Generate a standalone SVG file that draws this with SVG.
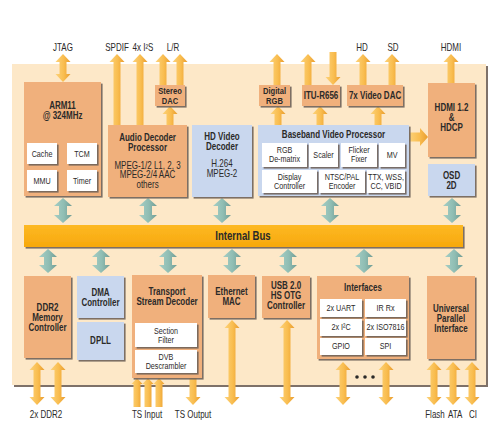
<svg xmlns="http://www.w3.org/2000/svg" width="500" height="434" viewBox="0 0 500 434">
<style>
.t{font-family:'Liberation Sans',Arial,sans-serif;text-anchor:middle;fill:#2b2a29;transform-box:fill-box;transform-origin:center;transform:scaleX(0.8)}
.b{font-weight:bold;font-size:10px}
.bs{font-weight:bold;font-size:9.5px}
.r{font-size:10px}
.s{font-size:9px}
.bus{font-weight:bold;font-size:12px}
.ob{fill:#f0b07c;filter:url(#sh)}
.bb{fill:#c9d7ee;filter:url(#sh)}
.wb{fill:#ffffff;filter:url(#sh)}
.oa{fill:url(#og)}
.ta{fill:url(#tg)}
</style>
<defs>
<filter id="sh" x="-10%" y="-10%" width="130%" height="130%">
<feDropShadow dx="1.6" dy="1.6" stdDeviation="0.3" flood-color="#6f6258" flood-opacity="0.9"/>
</filter>
<filter id="psh" x="-5%" y="-5%" width="110%" height="110%">
<feDropShadow dx="2" dy="2" stdDeviation="0.4" flood-color="#6f6258" flood-opacity="0.9"/>
</filter>
<linearGradient id="og" x1="0" y1="0" x2="1" y2="0">
<stop offset="0" stop-color="#fcd27a"/>
<stop offset="0.55" stop-color="#f9bd4f"/>
<stop offset="1" stop-color="#e99c2e"/>
</linearGradient>
<linearGradient id="tg" x1="0" y1="0" x2="1" y2="0">
<stop offset="0" stop-color="#a6cec5"/>
<stop offset="0.55" stop-color="#8fbdb3"/>
<stop offset="1" stop-color="#6f9b93"/>
</linearGradient>
<linearGradient id="busg" x1="0" y1="0" x2="0" y2="1">
<stop offset="0" stop-color="#fdb924"/>
<stop offset="1" stop-color="#f7a80c"/>
</linearGradient>
</defs>

<rect id="panel" x="12" y="64" width="474" height="321" fill="#fde8c8" filter="url(#psh)"/>

<g id="connectors">
<path class="oa" d="M117 54 L124.5 62 L120.5 62 L120.5 125 L113.5 125 L113.5 62 L109.5 62 Z"/>
<path class="oa" d="M140 54 L147.5 62 L143.5 62 L143.5 125 L136.5 125 L136.5 62 L132.5 62 Z"/>
<path class="oa" d="M163 54 L170.5 62 L166.5 62 L166.5 85 L159.5 85 L159.5 62 L155.5 62 Z"/>
<path class="oa" d="M180 54 L187.5 62 L183.5 62 L183.5 85 L176.5 85 L176.5 62 L172.5 62 Z"/>
<path class="oa" d="M170 106 L177.5 114 L173.5 114 L173.5 125 L166.5 125 L166.5 114 L162.5 114 Z"/>
<path class="oa" d="M277 54 L284.5 62 L280.5 62 L280.5 85 L273.5 85 L273.5 62 L269.5 62 Z"/>
<path class="oa" d="M278 106 L285.5 114 L281.5 114 L281.5 125 L274.5 125 L274.5 114 L270.5 114 Z"/>
<path class="oa" d="M308 54 L315.5 62 L311.5 62 L311.5 85 L304.5 85 L304.5 62 L300.5 62 Z"/>
<path class="oa" d="M333 85 L340.5 77 L336.5 77 L336.5 52 L329.5 52 L329.5 77 L325.5 77 Z"/>
<path class="oa" d="M320 106 L327.5 114 L323.5 114 L323.5 125 L316.5 125 L316.5 114 L312.5 114 Z"/>
<path class="oa" d="M363 54 L370.5 62 L366.5 62 L366.5 85 L359.5 85 L359.5 62 L355.5 62 Z"/>
<path class="oa" d="M392 54 L399.5 62 L395.5 62 L395.5 85 L388.5 85 L388.5 62 L384.5 62 Z"/>
<path class="oa" d="M378 106 L385.5 114 L381.5 114 L381.5 125 L374.5 125 L374.5 114 L370.5 114 Z"/>
<path class="oa" d="M451 54 L458.5 62 L454.5 62 L454.5 83 L447.5 83 L447.5 62 L443.5 62 Z"/>
<path class="oa" d="M63 54 L70.5 62 L66.5 62 L66.5 74 L70.5 74 L63 82 L55.5 74 L59.5 74 L59.5 62 L55.5 62 Z"/>
<path class="oa" d="M409 132.5 L420 132.5 L420 128 L428 137 L420 146 L420 141.5 L409 141.5 Z"/>

<path class="oa" d="M37 362 L44.5 370 L40.5 370 L40.5 397 L44.5 397 L37 405 L29.5 397 L33.5 397 L33.5 370 L29.5 370 Z"/>
<path class="oa" d="M58 362 L65.5 370 L61.5 370 L61.5 397 L65.5 397 L58 405 L50.5 397 L54.5 397 L54.5 370 L50.5 370 Z"/>
<path class="oa" d="M137 378 L142.5 384 L140.5 384 L140.5 407 L133.5 407 L133.5 384 L131.5 384 Z"/>
<path class="oa" d="M148 378 L153.5 384 L151.5 384 L151.5 407 L144.5 407 L144.5 384 L142.5 384 Z"/>
<path class="oa" d="M159 378 L164.5 384 L162.5 384 L162.5 407 L155.5 407 L155.5 384 L153.5 384 Z"/>
<path class="oa" d="M193 405 L200.5 397 L196.5 397 L196.5 378 L189.5 378 L189.5 397 L185.5 397 Z"/>
<path class="oa" d="M232 320 L239.5 328 L235.5 328 L235.5 397 L239.5 397 L232 405 L224.5 397 L228.5 397 L228.5 328 L224.5 328 Z"/>
<path class="oa" d="M287 320 L294.5 328 L290.5 328 L290.5 397 L294.5 397 L287 405 L279.5 397 L283.5 397 L283.5 328 L279.5 328 Z"/>
<path class="oa" d="M343 362 L350.5 370 L346.5 370 L346.5 397 L350.5 397 L343 405 L335.5 397 L339.5 397 L339.5 370 L335.5 370 Z"/>
<path class="oa" d="M386 362 L393.5 370 L389.5 370 L389.5 397 L393.5 397 L386 405 L378.5 397 L382.5 397 L382.5 370 L378.5 370 Z"/>
<path class="oa" d="M434 362 L441.5 370 L437.5 370 L437.5 397 L441.5 397 L434 405 L426.5 397 L430.5 397 L430.5 370 L426.5 370 Z"/>
<path class="oa" d="M453 362 L460.5 370 L456.5 370 L456.5 397 L460.5 397 L453 405 L445.5 397 L449.5 397 L449.5 370 L445.5 370 Z"/>
<path class="oa" d="M472 362 L479.5 370 L475.5 370 L475.5 397 L479.5 397 L472 405 L464.5 397 L468.5 397 L468.5 370 L464.5 370 Z"/>

<path class="ta" d="M63 198 L72 206 L67 206 L67 215 L72 215 L63 223 L54 215 L59 215 L59 206 L54 206 Z"/>
<path class="ta" d="M148 198 L157 206 L152 206 L152 215 L157 215 L148 223 L139 215 L144 215 L144 206 L139 206 Z"/>
<path class="ta" d="M222 198 L231 206 L226 206 L226 215 L231 215 L222 223 L213 215 L218 215 L218 206 L213 206 Z"/>
<path class="ta" d="M330 198 L339 206 L334 206 L334 215 L339 215 L330 223 L321 215 L326 215 L326 206 L321 206 Z"/>
<path class="ta" d="M452 198 L461 206 L456 206 L456 215 L461 215 L452 223 L443 215 L448 215 L448 206 L443 206 Z"/>
<path class="ta" d="M48 249 L57 257 L52 257 L52 265 L57 265 L48 273 L39 265 L44 265 L44 257 L39 257 Z"/>
<path class="ta" d="M101 249 L110 257 L105 257 L105 265 L110 265 L101 273 L92 265 L97 265 L97 257 L92 257 Z"/>
<path class="ta" d="M168 249 L177 257 L172 257 L172 265 L177 265 L168 273 L159 265 L164 265 L164 257 L159 257 Z"/>
<path class="ta" d="M232 249 L241 257 L236 257 L236 265 L241 265 L232 273 L223 265 L228 265 L228 257 L223 257 Z"/>
<path class="ta" d="M288 249 L297 257 L292 257 L292 265 L297 265 L288 273 L279 265 L284 265 L284 257 L279 257 Z"/>
<path class="ta" d="M364 249 L373 257 L368 257 L368 265 L373 265 L364 273 L355 265 L360 265 L360 257 L355 257 Z"/>
<path class="ta" d="M454 249 L463 257 L458 257 L458 265 L463 265 L454 273 L445 265 L450 265 L450 257 L445 257 Z"/>
</g>

<g id="labels">
<text class="t r" x="63" y="51">JTAG</text>
<text class="t r" x="117" y="51">SPDIF</text>
<text class="t r" x="143" y="51">4x I²S</text>
<text class="t r" x="173" y="51">L/R</text>
<text class="t r" x="362" y="51">HD</text>
<text class="t r" x="393" y="51">SD</text>
<text class="t r" x="451" y="51">HDMI</text>
<text class="t r" x="46" y="418">2x DDR2</text>
<text class="t r" x="147" y="418">TS Input</text>
<text class="t r" x="193" y="418">TS Output</text>
<text class="t r" x="435" y="418">Flash</text>
<text class="t r" x="455" y="418">ATA</text>
<text class="t r" x="473" y="418">CI</text>
</g>

<g id="arm11">
<rect class="ob" x="24" y="82" width="77" height="114"/>
<text class="t b" x="62.5" y="109">ARM11</text>
<text class="t b" x="62.5" y="119">@ 324MHz</text>
<rect class="wb" x="27" y="143" width="30" height="21"/>
<text class="t s" x="42" y="157">Cache</text>
<rect class="wb" x="67" y="143" width="30" height="21"/>
<text class="t s" x="82" y="157">TCM</text>
<rect class="wb" x="27" y="170" width="30" height="21"/>
<text class="t s" x="42" y="184">MMU</text>
<rect class="wb" x="67" y="170" width="30" height="21"/>
<text class="t s" x="82" y="184">Timer</text>
</g>

<g id="audio">
<rect class="ob" x="108" y="125" width="79" height="72"/>
<text class="t b" x="147.5" y="141">Audio Decoder</text>
<text class="t b" x="147.5" y="151">Processor</text>
<text class="t r" x="147.5" y="169">MPEG-1/2 L1, 2, 3</text>
<text class="t r" x="147.5" y="178.5">MPEG-2/4 AAC</text>
<text class="t r" x="147.5" y="188">others</text>
</g>

<g id="stereo-dac">
<rect class="ob" x="155" y="85" width="30" height="21"/>
<text class="t bs" x="170" y="94">Stereo</text>
<text class="t bs" x="170" y="104">DAC</text>
</g>

<g id="hd-video">
<rect class="bb" x="192" y="125" width="60" height="72"/>
<text class="t b" x="222" y="140">HD Video</text>
<text class="t b" x="222" y="150">Decoder</text>
<text class="t r" x="222" y="167">H.264</text>
<text class="t r" x="222" y="177">MPEG-2</text>
</g>

<g id="baseband">
<rect class="bb" x="258" y="125" width="151" height="71"/>
<text class="t b" x="333.5" y="138">Baseband Video Processor</text>
<rect class="wb" x="262" y="143" width="45" height="24"/>
<text class="t s" x="284.5" y="153">RGB</text>
<text class="t s" x="284.5" y="162">De-matrix</text>
<rect class="wb" x="309" y="143" width="29" height="24"/>
<text class="t s" x="323.5" y="158">Scaler</text>
<rect class="wb" x="341" y="143" width="36" height="24"/>
<text class="t s" x="359" y="153">Flicker</text>
<text class="t s" x="359" y="162">Fixer</text>
<rect class="wb" x="379" y="143" width="26" height="24"/>
<text class="t s" x="392" y="158">MV</text>
<rect class="wb" x="262" y="170" width="55" height="23"/>
<text class="t s" x="289.5" y="180">Display</text>
<text class="t s" x="289.5" y="189">Controller</text>
<rect class="wb" x="319" y="170" width="46" height="23"/>
<text class="t s" x="342" y="180">NTSC/PAL</text>
<text class="t s" x="342" y="189">Encoder</text>
<rect class="wb" x="367" y="170" width="38" height="23"/>
<text class="t s" x="386" y="180">TTX, WSS,</text>
<text class="t s" x="386" y="189">CC, VBID</text>
</g>

<g id="digital-rgb">
<rect class="ob" x="259" y="85" width="31" height="21"/>
<text class="t bs" x="274.5" y="94">Digital</text>
<text class="t bs" x="274.5" y="104">RGB</text>
</g>

<g id="itu-r656">
<rect class="ob" x="302" y="85" width="38" height="21"/>
<text class="t b" x="321" y="99">ITU-R656</text>
</g>

<g id="video-dac">
<rect class="ob" x="347" y="85" width="56" height="21"/>
<text class="t b" x="375" y="99">7x Video DAC</text>
</g>

<g id="hdmi">
<rect class="ob" x="428" y="83" width="47" height="74"/>
<text class="t b" x="451.5" y="111">HDMI 1.2</text>
<text class="t b" x="451.5" y="121">&amp;</text>
<text class="t b" x="451.5" y="131">HDCP</text>
</g>

<g id="osd">
<rect class="bb" x="428" y="164" width="47" height="32"/>
<text class="t b" x="451.5" y="179">OSD</text>
<text class="t b" x="451.5" y="189">2D</text>
</g>

<g id="bus">
<rect x="24" y="225" width="439" height="22" fill="url(#busg)" filter="url(#sh)"/>
<text class="t bus" x="243" y="240.5">Internal Bus</text>
</g>

<g id="ddr2">
<rect class="ob" x="24" y="276" width="47" height="82"/>
<text class="t b" x="47.5" y="311">DDR2</text>
<text class="t b" x="47.5" y="321">Memory</text>
<text class="t b" x="47.5" y="331">Controller</text>
</g>

<g id="dma">
<rect class="bb" x="77" y="276" width="47" height="42"/>
<text class="t b" x="100.5" y="296">DMA</text>
<text class="t b" x="100.5" y="306">Controller</text>
</g>

<g id="dpll">
<rect class="bb" x="77" y="322" width="47" height="38"/>
<text class="t b" x="100.5" y="344">DPLL</text>
</g>

<g id="tsd">
<rect class="ob" x="132" y="275" width="70" height="103"/>
<text class="t b" x="167" y="295">Transport</text>
<text class="t b" x="167" y="305">Stream Decoder</text>
<rect class="wb" x="135" y="323" width="62" height="24"/>
<text class="t s" x="166" y="334.5">Section</text>
<text class="t s" x="166" y="343.5">Filter</text>
<rect class="wb" x="135" y="350" width="62" height="23"/>
<text class="t s" x="166" y="360.5">DVB</text>
<text class="t s" x="166" y="369.5">Descrambler</text>
</g>

<g id="ethernet">
<rect class="ob" x="208" y="275" width="47" height="43"/>
<text class="t b" x="231.5" y="295">Ethernet</text>
<text class="t b" x="231.5" y="305">MAC</text>
</g>

<g id="usb">
<rect class="ob" x="262" y="276" width="48" height="42"/>
<text class="t b" x="286" y="289">USB 2.0</text>
<text class="t b" x="286" y="299">HS OTG</text>
<text class="t b" x="286" y="309">Controller</text>
</g>

<g id="interfaces">
<rect class="ob" x="317" y="276" width="92" height="83"/>
<text class="t b" x="363" y="291">Interfaces</text>
<rect class="wb" x="320" y="299" width="42" height="18"/>
<text class="t s" x="341" y="311">2x UART</text>
<rect class="wb" x="365" y="299" width="41" height="18"/>
<text class="t s" x="385.5" y="311">IR Rx</text>
<rect class="wb" x="320" y="319" width="42" height="17"/>
<text class="t s" x="341" y="330.5">2x I²C</text>
<rect class="wb" x="365" y="319" width="41" height="17"/>
<text class="t s" x="385.5" y="330.5">2x ISO7816</text>
<rect class="wb" x="320" y="338" width="42" height="17"/>
<text class="t s" x="341" y="349.5">GPIO</text>
<rect class="wb" x="365" y="338" width="41" height="17"/>
<text class="t s" x="385.5" y="349.5">SPI</text>
<circle cx="357" cy="377" r="1.8" fill="#2b2a29"/>
<circle cx="365" cy="377" r="1.8" fill="#2b2a29"/>
<circle cx="373" cy="377" r="1.8" fill="#2b2a29"/>
</g>

<g id="upi">
<rect class="ob" x="427" y="276" width="48" height="83"/>
<text class="t b" x="451" y="312">Universal</text>
<text class="t b" x="451" y="322">Parallel</text>
<text class="t b" x="451" y="332">Interface</text>
</g>
</svg>
